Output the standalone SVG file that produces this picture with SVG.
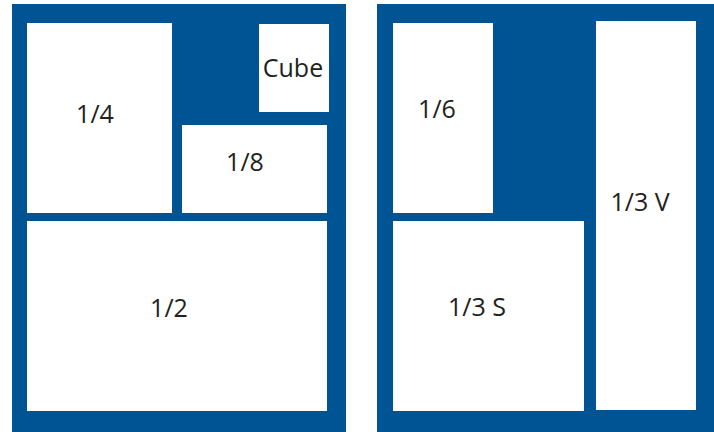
<svg xmlns="http://www.w3.org/2000/svg" width="714" height="432" viewBox="0 0 714 432">
<style>
.panel{fill:#005493}
.box{fill:#ffffff}
.lbl{font-family:"Open Sans","Liberation Sans",sans-serif;font-size:25px;fill:#231f20;text-anchor:middle}
</style>
<rect width="714" height="432" fill="#ffffff"/>
<g id="left-panel">
<rect class="panel" x="12" y="4" width="334" height="428"/>
</g>
<g id="right-panel">
<rect class="panel" x="377" y="4" width="337" height="428"/>
</g>
<g id="quarter"><rect class="box" x="27" y="23" width="145" height="190"/><text class="lbl" x="95" y="123">1/4</text></g>
<g id="cube"><rect class="box" x="259" y="24" width="70" height="88"/><text class="lbl" x="293" y="77">Cube</text></g>
<g id="eighth"><rect class="box" x="182" y="125" width="145" height="88"/><text class="lbl" x="245" y="171">1/8</text></g>
<g id="half"><rect class="box" x="27" y="221" width="300" height="190"/><text class="lbl" x="169" y="317">1/2</text></g>
<g id="sixth"><rect class="box" x="393" y="23" width="100" height="190"/><text class="lbl" x="437" y="118">1/6</text></g>
<g id="third-v"><rect class="box" x="596" y="21" width="100" height="389"/><text class="lbl" x="640" y="211">1/3 V</text></g>
<g id="third-s"><rect class="box" x="393" y="221" width="191" height="190"/><text class="lbl" x="477" y="316">1/3 S</text></g>
<g id="connectors"></g>
</svg>
